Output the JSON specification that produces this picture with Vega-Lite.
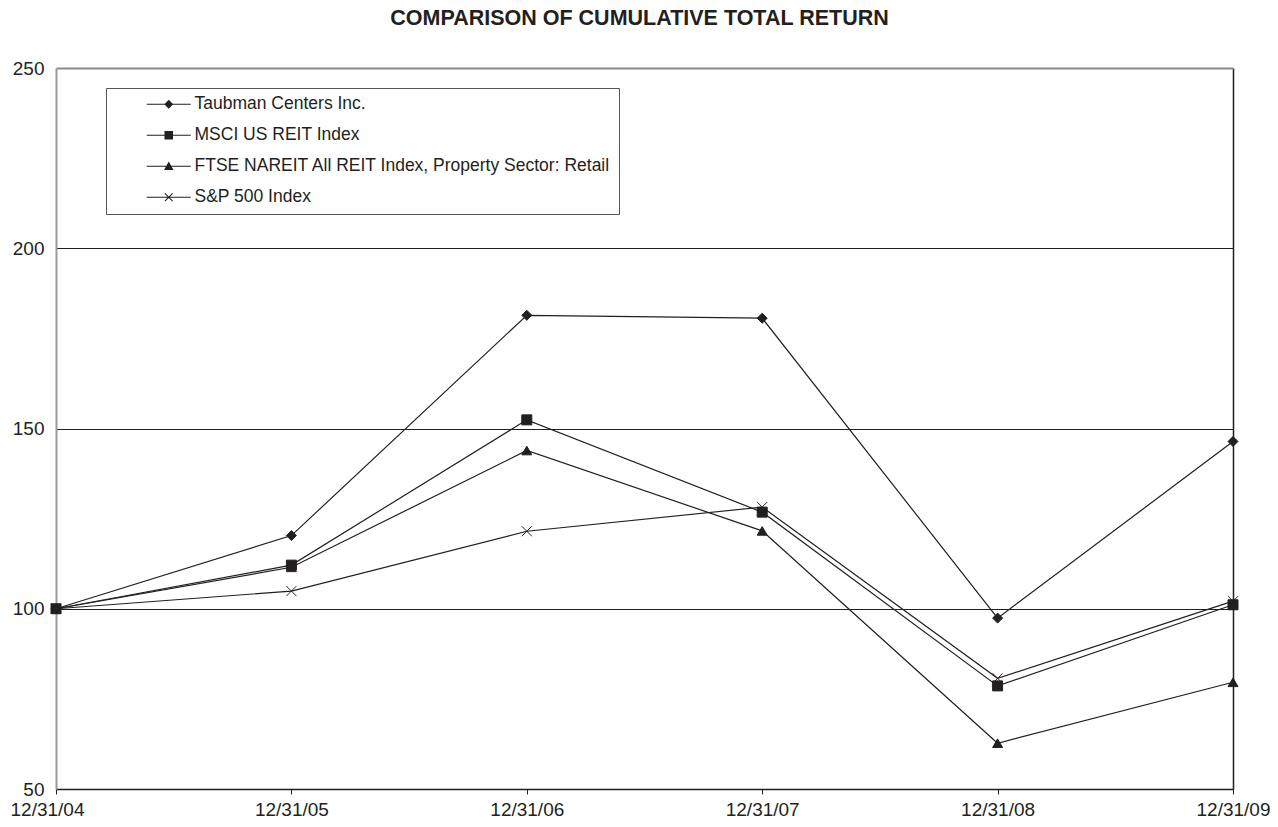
{
  "$schema": "https://vega.github.io/schema/vega-lite/v6.json",
  "width": 1177,
  "height": 721,
  "autosize": "none",
  "padding": {"left": 56, "top": 68, "right": 45, "bottom": 38},
  "background": "white",
  "config": {
    "view": {"stroke": null},
    "font": "Liberation Sans"
  },
  "title": {
    "text": "COMPARISON OF CUMULATIVE TOTAL RETURN",
    "font": "Liberation Sans",
    "fontSize": 21.5,
    "fontWeight": "bold",
    "color": "#231f20",
    "anchor": "middle",
    "offset": 30,
    "dx": -5
  },
  "data": {
    "values": [
      {"date": "12/31/04", "series": "Taubman Centers Inc.", "value": 100},
      {"date": "12/31/05", "series": "Taubman Centers Inc.", "value": 120.3},
      {"date": "12/31/06", "series": "Taubman Centers Inc.", "value": 181.4},
      {"date": "12/31/07", "series": "Taubman Centers Inc.", "value": 180.6},
      {"date": "12/31/08", "series": "Taubman Centers Inc.", "value": 97.4},
      {"date": "12/31/09", "series": "Taubman Centers Inc.", "value": 146.4},
      {"date": "12/31/04", "series": "MSCI US REIT Index", "value": 100},
      {"date": "12/31/05", "series": "MSCI US REIT Index", "value": 112.1},
      {"date": "12/31/06", "series": "MSCI US REIT Index", "value": 152.4},
      {"date": "12/31/07", "series": "MSCI US REIT Index", "value": 126.8},
      {"date": "12/31/08", "series": "MSCI US REIT Index", "value": 78.6},
      {"date": "12/31/09", "series": "MSCI US REIT Index", "value": 101.1},
      {"date": "12/31/04", "series": "FTSE NAREIT All REIT Index, Property Sector: Retail", "value": 100},
      {"date": "12/31/05", "series": "FTSE NAREIT All REIT Index, Property Sector: Retail", "value": 111.5},
      {"date": "12/31/06", "series": "FTSE NAREIT All REIT Index, Property Sector: Retail", "value": 143.9},
      {"date": "12/31/07", "series": "FTSE NAREIT All REIT Index, Property Sector: Retail", "value": 121.6},
      {"date": "12/31/08", "series": "FTSE NAREIT All REIT Index, Property Sector: Retail", "value": 62.7},
      {"date": "12/31/09", "series": "FTSE NAREIT All REIT Index, Property Sector: Retail", "value": 79.6},
      {"date": "12/31/04", "series": "S&P 500 Index", "value": 100},
      {"date": "12/31/05", "series": "S&P 500 Index", "value": 104.9},
      {"date": "12/31/06", "series": "S&P 500 Index", "value": 121.5},
      {"date": "12/31/07", "series": "S&P 500 Index", "value": 128.2},
      {"date": "12/31/08", "series": "S&P 500 Index", "value": 80.7},
      {"date": "12/31/09", "series": "S&P 500 Index", "value": 102.1}
    ]
  },
  "encoding": {
    "x": {
      "field": "date",
      "type": "ordinal",
      "sort": null,
      "scale": {"type": "point", "padding": 0},
      "axis": {
        "title": null,
        "labelAngle": 0,
        "labelFont": "Liberation Sans",
        "labelFontSize": 19,
        "labelColor": "#231f20",
        "labelPadding": 6,
        "labelOffset": {"condition": {"test": "datum.value === '12/31/04'", "value": -9}, "value": 0},
        "tickSize": 5,
        "tickColor": "#231f20",
        "domainColor": "#231f20",
        "domainWidth": 1.5,
        "grid": true,
        "gridColor": "#231f20",
        "gridWidth": 1.5,
        "gridOpacity": {"condition": {"test": "datum.value === '12/31/09'", "value": 1}, "value": 0},
        "zindex": 0
      }
    },
    "y": {
      "field": "value",
      "type": "quantitative",
      "scale": {"domain": [50, 250], "nice": false, "zero": false},
      "axis": {
        "title": null,
        "values": [50, 100, 150, 200, 250],
        "labelFont": "Liberation Sans",
        "labelFontSize": 19,
        "labelColor": "#231f20",
        "labelPadding": 12,
        "ticks": false,
        "domainColor": "#9a9a9a",
        "domainWidth": 2,
        "grid": true,
        "gridColor": {"condition": {"test": "datum.value === 250", "value": "#8a8a8a"}, "value": "#231f20"},
        "gridWidth": {"condition": {"test": "datum.value === 250", "value": 2}, "value": 1},
        "gridOpacity": 1
      }
    }
  },
  "resolve": {"scale": {"shape": "independent"}},
  "layer": [
    {
      "mark": {"type": "line", "strokeWidth": 1.2, "color": "#231f20"},
      "encoding": {
        "detail": {"field": "series", "type": "nominal"}
      }
    },
    {
      "mark": {"type": "point", "filled": true, "color": "#231f20", "stroke": "#231f20", "strokeWidth": 1, "size": 100, "opacity": 1},
      "encoding": {
        "shape": {
          "field": "series",
          "type": "nominal",
          "scale": {
            "domain": ["Taubman Centers Inc.", "MSCI US REIT Index", "FTSE NAREIT All REIT Index, Property Sector: Retail", "S&P 500 Index"],
            "range": ["diamond", "square", "triangle-up", "M-1,-1L1,1M-1,1L1,-1"]
          },
          "legend": null
        }
      }
    },
    {
      "transform": [{"filter": "false"}],
      "mark": {"type": "point", "filled": true, "color": "#231f20", "size": 100, "opacity": 1},
      "encoding": {
        "shape": {
          "field": "series",
          "type": "nominal",
          "scale": {
            "domain": ["Taubman Centers Inc.", "MSCI US REIT Index", "FTSE NAREIT All REIT Index, Property Sector: Retail", "S&P 500 Index"],
            "range": [
              "M-4.4,-0.11L4.4,-0.11L4.4,0.11L-4.4,0.11ZM0,-0.9L0.9,0L0,0.9L-0.9,0Z",
              "M-4.4,-0.11L4.4,-0.11L4.4,0.11L-4.4,0.11ZM-0.85,-0.85L0.85,-0.85L0.85,0.85L-0.85,0.85Z",
              "M-4.4,-0.11L4.4,-0.11L4.4,0.11L-4.4,0.11ZM0,-0.95L0.95,0.75L-0.95,0.75Z",
              "M-4.4,-0.11L4.4,-0.11L4.4,0.11L-4.4,0.11ZM-0.85,-0.7L-0.7,-0.85L0.85,0.7L0.7,0.85ZM0.7,-0.85L0.85,-0.7L-0.7,0.85L-0.85,0.7Z"
            ]
          },
          "legend": {
            "title": null,
            "orient": "none",
            "legendX": 50,
            "legendY": 20,
            "padding": 7.5,
            "strokeColor": "#555555",
            "fillColor": "white",
            "rowPadding": 12,
            "symbolSize": 100,
            "symbolOffset": 46.5,
            "labelOffset": 17,
            "symbolFillColor": "#231f20",
            "symbolOpacity": 1,
            "labelFont": "Liberation Sans",
            "labelFontSize": 17.5,
            "labelColor": "#231f20",
            "labelLimit": 0
          }
        }
      }
    }
  ]
}
